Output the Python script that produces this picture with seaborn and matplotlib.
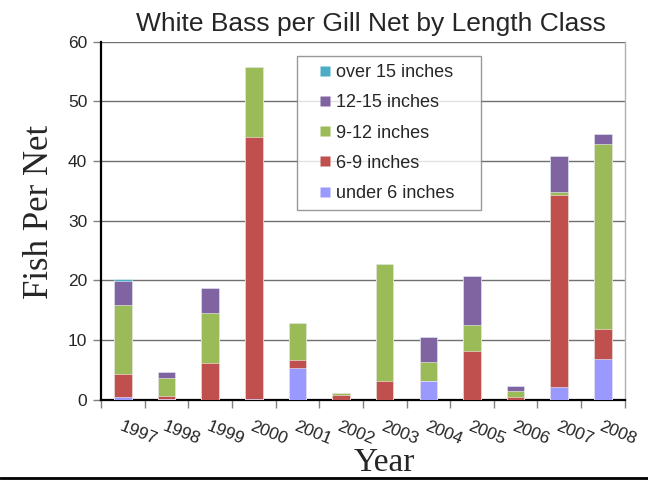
import matplotlib
matplotlib.use("Agg")
import matplotlib.pyplot as plt
from matplotlib import font_manager
from matplotlib.lines import Line2D
import seaborn as sns
import pandas as pd
import numpy as np

years = ["1997", "1998", "1999", "2000", "2001", "2002",
         "2003", "2004", "2005", "2006", "2007", "2008"]
under_6 = [0.4, 0.2, 0.0, 0.2, 5.4, 0.0, 0.0, 3.1, 0.0, 0.0, 2.1, 6.9]
in_6_9 = [4.0, 0.4, 6.25, 43.85, 1.2, 0.8, 3.1, 0.0, 8.1, 0.55, 32.2, 4.9]
in_9_12 = [11.5, 3.0, 8.35, 11.75, 6.25, 0.3, 19.7, 3.2, 4.4, 1.0, 0.5, 31.1]
in_12_15 = [4.0, 1.0, 4.2, 0.0, 0.0, 0.0, 0.0, 4.25, 8.3, 0.8, 6.0, 1.65]
over_15 = [0.3, 0.0, 0.0, 0.0, 0.0, 0.0, 0.0, 0.0, 0.0, 0.0, 0.0, 0.0]

classes = ["under 6 inches", "6-9 inches", "9-12 inches", "12-15 inches", "over 15 inches"]
colors = ["#9999FF", "#C0504D", "#9BBB59", "#8064A2", "#4BACC6"]

sns.set_style("white")
avail = {f.name for f in font_manager.fontManager.ttflist}
plt.rcParams["font.family"] = ["Liberation Sans", "DejaVu Sans"]
narrow = "Liberation Sans Narrow" in avail

df = pd.DataFrame({"year": years, "under 6 inches": under_6, "6-9 inches": in_6_9,
                   "9-12 inches": in_9_12, "12-15 inches": in_12_15,
                   "over 15 inches": over_15})
cum = df[classes].cumsum(axis=1)
cum["year"] = df["year"]

fig = plt.figure(figsize=(6.48, 4.8), dpi=100)
ax = fig.add_axes([0.156, 0.167, 0.808, 0.746])

# stacked look: draw cumulative totals from the top layer down
for cls, col in reversed(list(zip(classes, colors))):
    sns.barplot(data=cum, x="year", y=cls, order=years, color=col, saturation=1,
                width=0.4, errorbar=None, edgecolor=(1, 1, 1, 0.6), linewidth=0.6,
                ax=ax, zorder=3)

ax.set_xlim(-0.5, 11.5)
ax.set_ylim(0, 60)
ax.set_yticks(np.arange(0, 61, 10))
ax.yaxis.grid(True, color="#707070", linewidth=1)
ax.set_axisbelow(True)

for s in ["left", "bottom"]:
    ax.spines[s].set_color("black")
    ax.spines[s].set_linewidth(1.6)
ax.spines["right"].set_color("#b0b0b0")
ax.spines["right"].set_linewidth(1)
ax.spines["top"].set_visible(False)

ax.tick_params(axis="y", direction="out", length=6, width=1, color="#808080",
               labelsize=12.5, pad=4, left=True)
ax.set_xticks(range(len(years)))
ax.set_xticklabels(years, rotation=-22, ha="left", va="top",
                   rotation_mode="anchor", fontsize=12.5)
ax.tick_params(axis="x", which="major", length=0, pad=14)
ax.set_xticks(np.arange(-0.5, 12, 1), minor=True)
ax.tick_params(axis="x", which="minor", direction="out", length=6, width=1,
               color="#808080", bottom=True)

if narrow:
    ax.set_title("White Bass per Gill Net by Length Class", family="Liberation Sans Narrow",
                 fontsize=23, pad=8, x=0.515)
else:
    ax.set_title("White Bass per Gill Net by Length Class", fontsize=19, pad=8, x=0.515)

ax.set_ylabel("Fish Per Net", family="Liberation Serif", fontsize=25)
ax.yaxis.set_label_coords(-0.086, 0.525)
ax.set_xlabel("Year", family="Liberation Serif", fontsize=24)
ax.xaxis.set_label_coords(0.54, -0.133)

handles = [Line2D([], [], marker="s", linestyle="none", markersize=7.5,
                  markerfacecolor=c, markeredgecolor="none") for c in colors[::-1]]
leg = ax.legend(handles, classes[::-1], loc="upper left",
                bbox_to_anchor=(0.375, 0.54, 0.35, 0.42), mode="expand",
                fontsize=13, frameon=True, fancybox=False, handlelength=2.2,
                handletextpad=-0.5, labelspacing=0.73, borderpad=0.45,
                borderaxespad=0)
leg.get_frame().set_edgecolor("#808080")
leg.get_frame().set_linewidth(1)
leg.set_zorder(5)

fig.add_artist(Line2D([0, 1], [0.004, 0.004], transform=fig.transFigure,
                      color="black", linewidth=2))

fig.savefig("out.png", dpi=100)
